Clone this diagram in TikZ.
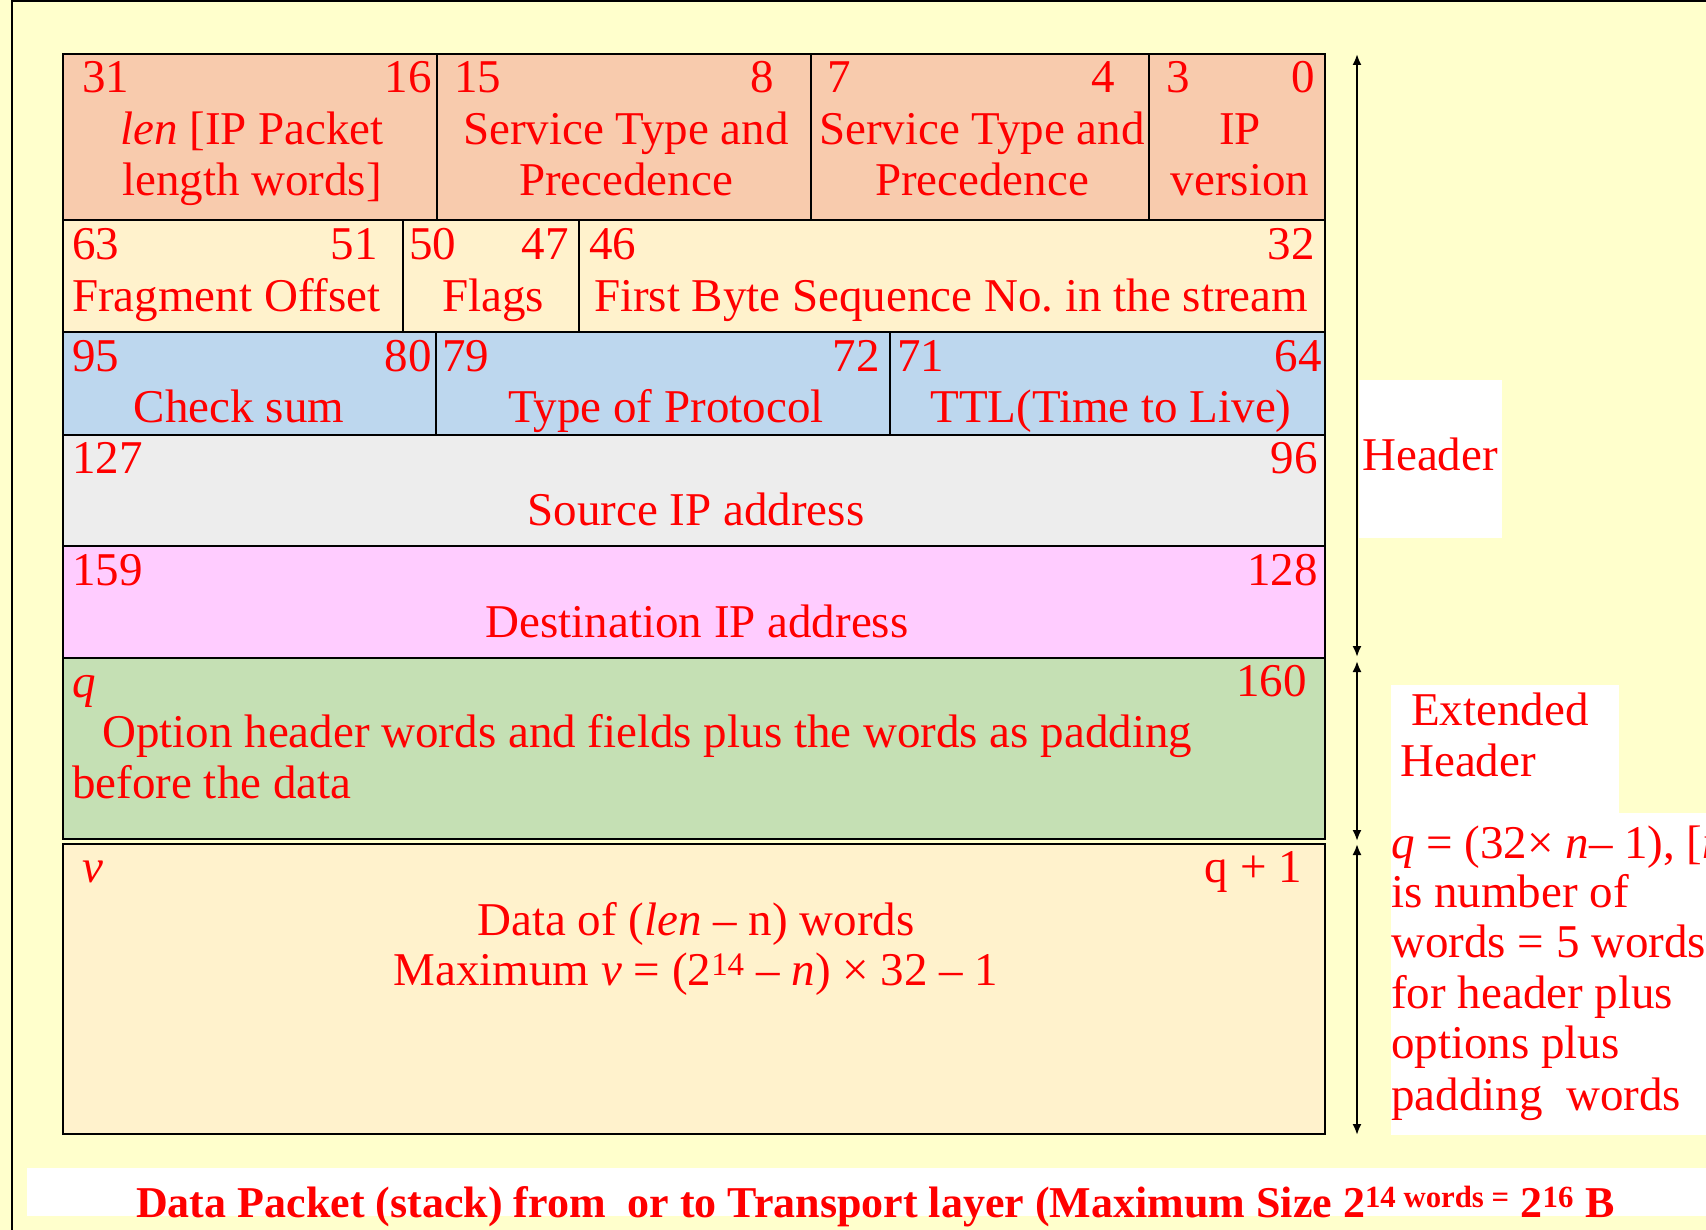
\documentclass[tikz,border=0pt]{standalone}
\usepackage{fontspec}
\setmainfont{Liberation Serif}
\frenchspacing
\usetikzlibrary{arrows.meta}

\definecolor{slide}{HTML}{FFFFCC}
\definecolor{peach}{HTML}{F8CBAD}
\definecolor{cream}{HTML}{FFF2CC}
\definecolor{sky}{HTML}{BDD7EE}
\definecolor{silver}{HTML}{EDEDED}
\definecolor{pinkish}{HTML}{FFCCFF}
\definecolor{sage}{HTML}{C5E0B4}
\definecolor{ink}{HTML}{FF0000}

\tikzset{
  cell/.style={draw=black, line width=2pt},
  lbl/.style={text=ink, font=\fontsize{47}{51}\selectfont, inner sep=0pt},
  capt/.style={text=ink, font=\fontsize{44}{48}\selectfont\bfseries, inner sep=0pt},
  span/.style={line width=2pt, {Latex[length=11pt,width=9pt]}-{Latex[length=11pt,width=9pt]}},
  wbox/.style={fill=white, draw=none},
}

\begin{document}
\begin{tikzpicture}[x=1pt, y=-1pt]
  \useasboundingbox (0,0) rectangle (1706,1230);
  \clip (0,0) rectangle (1706,1230);

  % slide background and frame
  \fill[slide] (0,0) rectangle (1706,1230);
  \draw[line width=2pt] (12,1240) -- (12,1) -- (1720,1);

  % white label panels
  \path[wbox] (1359,380) rectangle (1502,538);
  \path[wbox] (1391,685) rectangle (1619,814);
  \path[wbox] (1391,813) rectangle (1720,1135);
  \path[wbox] (27,1168) rectangle (1720,1216);

  % word 0
  \path[cell, fill=peach] (63,54) rectangle (437,220);
  \path[cell, fill=peach] (437,54) rectangle (811,220);
  \path[cell, fill=peach] (811,54) rectangle (1149,220);
  \path[cell, fill=peach] (1149,54) rectangle (1325,220);
  % word 1
  \path[cell, fill=cream] (63,220) rectangle (403,332);
  \path[cell, fill=cream] (403,220) rectangle (579,332);
  \path[cell, fill=cream] (579,220) rectangle (1325,332);
  % word 2
  \path[cell, fill=sky] (63,332) rectangle (436,435);
  \path[cell, fill=sky] (436,332) rectangle (890,435);
  \path[cell, fill=sky] (890,332) rectangle (1325,435);
  % words 3 and 4
  \path[cell, fill=silver] (63,435) rectangle (1325,546);
  \path[cell, fill=pinkish] (63,546) rectangle (1325,658);
  % options and data
  \path[cell, fill=sage] (63,658) rectangle (1325,839);
  \path[cell, fill=cream] (63,844) rectangle (1325,1134);

  % word 0 texts
  \node[lbl, anchor=base west] (b31) at (82,93) {31};
  \node[lbl, anchor=base east] (b16) at (432,93) {16};
  \node[lbl, anchor=base] (lenA) at (252,145) {\textit{len} [IP Packet};
  \node[lbl, anchor=base] (lenB) at (252,196) {length words]};
  \node[lbl, anchor=base west] (b15) at (454,93) {15};
  \node[lbl, anchor=base east] (b8) at (774,93) {8};
  \node[lbl, anchor=base] (stA) at (626,145) {Service Type and};
  \node[lbl, anchor=base] (stB) at (626,196) {Precedence};
  \node[lbl, anchor=base west] (b7) at (827,93) {7};
  \node[lbl, anchor=base east] (b4) at (1115,93) {4};
  \node[lbl, anchor=base] (spA) at (982,145) {Service Type and};
  \node[lbl, anchor=base] (spB) at (982,196) {Precedence};
  \node[lbl, anchor=base west] (b3) at (1166,93) {3};
  \node[lbl, anchor=base east] (b0) at (1315,93) {0};
  \node[lbl, anchor=base] (ipA) at (1240,145) {IP};
  \node[lbl, anchor=base] (ipB) at (1240,196) {version};

  % word 1 texts
  \node[lbl, anchor=base west] (b63) at (72,260) {63};
  \node[lbl, anchor=base east] (b51) at (378,260) {51};
  \node[lbl, anchor=base west] (frag) at (72,312) {Fragment Offset};
  \node[lbl, anchor=base west] (b50) at (409,260) {50};
  \node[lbl, anchor=base east] (b47) at (569,260) {47};
  \node[lbl, anchor=base] (flags) at (493,312) {Flags};
  \node[lbl, anchor=base west] (b46) at (589,260) {46};
  \node[lbl, anchor=base east] (b32) at (1315,260) {32};
  \node[lbl, anchor=base] (seq) at (951,312) {First Byte Sequence No. in the stream};

  % word 2 texts
  \node[lbl, anchor=base west] (b95) at (72,372) {95};
  \node[lbl, anchor=base east] (b80) at (432,372) {80};
  \node[lbl, anchor=base] (chk) at (239,423) {Check sum};
  \node[lbl, anchor=base west] (b79) at (442,372) {79};
  \node[lbl, anchor=base east] (b72) at (880,372) {72};
  \node[lbl, anchor=base] (proto) at (666,423) {Type of Protocol};
  \node[lbl, anchor=base west] (b71) at (897,372) {71};
  \node[lbl, anchor=base east] (b64) at (1322,372) {64};
  \node[lbl, anchor=base] (ttl) at (1111,423) {TTL(Time to Live)};

  % words 3 and 4 texts
  \node[lbl, anchor=base west] (b127) at (72,473) {127};
  \node[lbl, anchor=base east] (b96) at (1318,473) {96};
  \node[lbl, anchor=base] (src) at (696,525) {Source IP address};
  \node[lbl, anchor=base west] (b159) at (72,585) {159};
  \node[lbl, anchor=base east] (b128) at (1318,585) {128};
  \node[lbl, anchor=base] (dst) at (697,637) {Destination IP address};

  % options texts
  \node[lbl, anchor=base west] (bq) at (72,697) {\textit{q}};
  \node[lbl, anchor=base east] (b160) at (1307,696) {160};
  \node[lbl, anchor=base west] (optA) at (102,747) {Option header words and fields plus the words as padding};
  \node[lbl, anchor=base west] (optB) at (72,798) {before the data};

  % data texts
  \node[lbl, anchor=base west] (bv) at (82,882) {\textit{v}};
  \node[lbl, anchor=base east] (bq1) at (1302,882) {q + 1};
  \node[lbl, anchor=base] (datA) at (696,935) {Data of (\textit{len} – n) words};
  \node[lbl, anchor=base] (datB) at (696,985) {Maximum \textit{v} = (2\textsuperscript{14} – \textit{n}) × 32 – 1};

  % extent markers
  \coordinate (hTop) at (1357,54);
  \coordinate (hBot) at (1357,657);
  \coordinate (eTop) at (1357,661);
  \coordinate (eBot) at (1357,841);
  \coordinate (dTop) at (1357,844);
  \coordinate (dBot) at (1357,1135);
  \draw[span] (hTop) -- (hBot);
  \draw[span] (eTop) -- (eBot);
  \draw[span] (dTop) -- (dBot);

  % side labels
  \node[lbl, anchor=base west] (hdr) at (1362,471) {Header};
  \node[lbl, anchor=base west] (extA) at (1411,725) {Extended};
  \node[lbl, anchor=base west] (extB) at (1400,776) {Header};
  \node[lbl, anchor=base west] (nt1) at (1391,858) {\textit{q} = (32× \textit{n}– 1), [\textit{n}};
  \node[lbl, anchor=base west] (nt2) at (1391,907) {is number of};
  \node[lbl, anchor=base west] (nt3) at (1391,957) {words = 5 words};
  \node[lbl, anchor=base west] (nt4) at (1391,1008) {for header plus};
  \node[lbl, anchor=base west] (nt5) at (1391,1058) {options plus};
  \node[lbl, anchor=base west] (nt6) at (1391,1110) {padding \ words};

  % caption
  \node[capt, anchor=base west] (cap) at (136,1217)
    {Data Packet (stack) from \ or to Transport layer (Maximum Size 2\textsuperscript{14 words =} 2\textsuperscript{16} B};
\end{tikzpicture}
\end{document}
